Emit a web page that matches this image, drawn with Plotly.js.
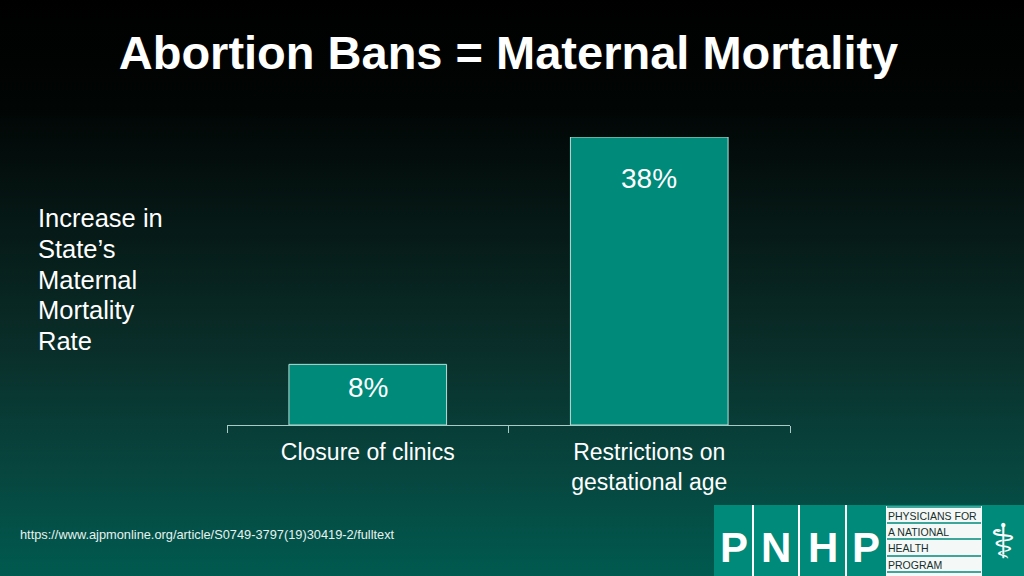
<!DOCTYPE html>
<html>
<head>
<meta charset="utf-8">
<script src="https://cdn.plot.ly/plotly-3.0.1.min.js"></script>
<style>
html,body{margin:0;padding:0;width:1024px;height:576px;overflow:hidden;}
body{background:linear-gradient(to bottom,#000000 0%,#010504 18%,#061a17 40%,#0a302b 62%,#07463f 82%,#005a4f 100%);}
#chart{width:1024px;height:576px;}
</style>
</head>
<body>
<div id="chart"></div>
<script>
const categories = ["Closure of clinics", "Restrictions on<br>gestational age"];
const increasePct = [8, 38];
const valueLabels = ["8%", "38%"];
const titleText = "Abortion Bans = Maternal Mortality";
const yLabelLines = ["Increase in", "State’s", "Maternal", "Mortality", "Rate"];
const sourceText = "https://www.ajpmonline.org/article/S0749-3797(19)30419-2/fulltext";
const logoLetters = ["P", "N", "H", "P"];
const logoLines = ["PHYSICIANS FOR", "A NATIONAL", "HEALTH", "PROGRAM"];

// layout geometry (pixels)
const M = {l: 227, r: 234, t: 137, b: 151};
const W = 1024, H = 576;
const pw = W - M.l - M.r, ph = H - M.t - M.b;
const xp = px => (px - M.l) / pw;
const yp = py => (H - M.b - py) / ph;
const labelShift = [-23, -41];

const FONT = "Liberation Sans, Arial, sans-serif";
const teal = "#008a7a";

const annotations = [];
const shapes = [];

// value labels
categories.forEach((c, i) => {
  annotations.push({
    x: c, y: increasePct[i], xref: "x", yref: "y",
    text: valueLabels[i], showarrow: false, yanchor: "middle", yshift: labelShift[i],
    font: {family: FONT, size: 28, color: "#ffffff"}
  });
});

// y label, one line each
yLabelLines.forEach((t, i) => annotations.push({
  xref: "paper", yref: "paper", x: xp(36), y: yp(218 + i * 30.8), xanchor: "left", yanchor: "middle",
  text: t, showarrow: false,
  font: {family: FONT, size: 25.5, color: "#ffffff"}
}));

// source
annotations.push({
  xref: "paper", yref: "paper", x: xp(18), y: yp(534), xanchor: "left", yanchor: "middle",
  text: sourceText, showarrow: false,
  font: {family: FONT, size: 12.8, color: "#e6f2f0"}
});

// logo background
shapes.push({type: "rect", xref: "paper", yref: "paper", x0: xp(714), x1: xp(1024), y0: yp(505), y1: yp(576),
  fillcolor: teal, line: {width: 0}, layer: "above"});
// separators
[753, 799, 846].forEach(x => shapes.push({type: "line", xref: "paper", yref: "paper",
  x0: xp(x), x1: xp(x), y0: yp(505), y1: yp(576), line: {color: "#ffffff", width: 2}, layer: "above"}));
const cellX = [734, 776, 822.5, 865.5];
logoLetters.forEach((t, i) => annotations.push({
  xref: "paper", yref: "paper", x: xp(cellX[i]), y: yp(547), xanchor: "center", yanchor: "middle",
  text: "<b>" + t + "</b>", showarrow: false, font: {family: FONT, size: 42, color: "#ffffff"}
}));
// text box
shapes.push({type: "rect", xref: "paper", yref: "paper", x0: xp(886), x1: xp(982), y0: yp(506), y1: yp(576),
  fillcolor: "#f4f8f7", line: {width: 0}, layer: "above"});
const ruleY = [507, 523, 539, 556, 572];
ruleY.forEach(y => shapes.push({type: "line", xref: "paper", yref: "paper",
  x0: xp(887), x1: xp(981), y0: yp(y), y1: yp(y), line: {color: teal, width: 1.5}, layer: "above"}));
logoLines.forEach((t, i) => annotations.push({
  xref: "paper", yref: "paper", x: xp(886), y: yp((ruleY[i] + ruleY[i + 1]) / 2 + 0.5), xanchor: "left", yanchor: "middle",
  text: t, showarrow: false, font: {family: FONT, size: 10.5, color: "#16302c"}
}));
// caduceus
annotations.push({
  xref: "paper", yref: "paper", x: xp(1003), y: yp(541), xanchor: "center", yanchor: "middle",
  text: "⚕", showarrow: false, font: {family: "DejaVu Sans", size: 48, color: "#ffffff"}
});

const trace = {
  type: "bar", x: categories, y: increasePct,
  marker: {color: teal, line: {color: "#b9ddd7", width: 1}},
  hoverinfo: "skip"
};

const layout = {
  width: W, height: H,
  margin: M,
  paper_bgcolor: "rgba(0,0,0,0)", plot_bgcolor: "rgba(0,0,0,0)",
  showlegend: false,
  bargap: 0.44,
  title: {text: "<b>" + titleText + "</b>", x: 0.5, xref: "paper", xanchor: "center",
    y: 1 - 53 / H, yref: "container", yanchor: "middle",
    font: {family: FONT, size: 47, color: "#ffffff"}},
  xaxis: {
    type: "category", range: [-0.5, 1.5], fixedrange: true,
    showline: true, linecolor: "#a8cbc5", linewidth: 1,
    ticks: "outside", tickson: "boundaries", ticklen: 7, tickcolor: "#a8cbc5", tickwidth: 1,
    ticklabelstandoff: 6,
    showgrid: false, zeroline: false,
    tickfont: {family: FONT, size: 23, color: "#ffffff"}
  },
  yaxis: {range: [0, 38], visible: false, fixedrange: true},
  annotations: annotations,
  shapes: shapes
};

Plotly.newPlot("chart", [trace], layout, {displayModeBar: false, staticPlot: true});
</script>
</body>
</html>
